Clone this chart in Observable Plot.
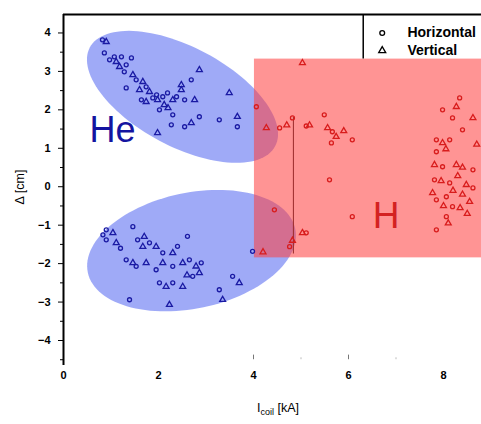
<!DOCTYPE html>
<html>
<head>
<meta charset="utf-8">
<script src="https://cdn.jsdelivr.net/npm/d3@7"></script>
<script src="https://cdn.jsdelivr.net/npm/@observablehq/plot@0.6"></script>
<style>
  html, body { margin: 0; padding: 0; background: #fff; }
  #chart svg { display: block; font-family: Arial, "Liberation Sans", sans-serif; }
</style>
</head>
<body>
<div id="chart"></div>
<script>
// ---- data (x = current [kA], y = displacement [cm]) ----
const heHorizontal = [
  [0.82,3.82],[0.86,3.48],[1.07,3.38],[1.22,3.38],[1.43,3.35],[1.32,3.17],[1.28,2.99],[1.53,2.78],
  [1.74,2.6],[1.32,2.57],[1.64,2.26],[1.88,2.31],[2.09,2.34],[2.19,2.44],[2.38,2.34],[2.55,2.26],
  [2.69,2.78],[2.3,1.87],[2.27,1.61],[2.55,1.56],[2.86,1.82],[3.28,1.74],[3.66,1.56],[1.96,2.39],
  [0.97,3.3],[2.02,2.0],
  [0.9,-1.12],[0.9,-1.38],[0.83,-1.25],[1.46,-1.04],[1.56,-1.38],[1.81,-1.46],[2.09,-1.72],[1.32,-1.9],
  [1.53,-2.07],[1.95,-2.16],[2.3,-2.07],[2.65,-1.9],[2.9,-1.98],[2.61,-1.29],[2.02,-2.5],[2.3,-2.5],
  [2.72,-2.33],[1.39,-2.94],[3.28,-2.68],[3.56,-2.33],[3.98,-1.68],[1.2,-1.6],[2.4,-1.55]
];
const heVertical = [
  [0.9,3.77],[1.11,3.25],[1.18,3.12],[1.46,2.91],[1.67,2.73],[1.6,2.52],[1.74,2.21],[1.98,2.26],
  [2.12,2.13],[2.3,2.26],[2.48,2.52],[2.86,3.04],[2.76,2.26],[1.98,1.4],[2.69,1.66],[3.49,2.44],
  [3.66,1.82],[2.48,2.65],[1.81,2.47],[2.2,2.05],
  [1.04,-1.2],[1.11,-1.46],[1.67,-1.56],[1.95,-1.56],[2.3,-1.72],[1.46,-1.98],[1.74,-1.98],[2.09,-1.98],
  [2.51,-1.98],[2.79,-2.07],[2.16,-2.6],[2.51,-2.6],[2.86,-2.24],[2.23,-3.07],[3.35,-2.94],[3.7,-2.5],
  [1.7,-1.3],[2.6,-2.3]
];
const hHorizontal = [
  [4.06,2.08],[4.55,1.53],[4.82,1.79],[5.11,1.58],[5.49,1.87],[5.66,1.43],[6.08,1.22],[5.64,1.14],
  [5.6,0.18],[6.08,-0.78],[5.11,-1.2],[4.44,-0.6],[4.76,-1.56],
  [8.34,2.31],[7.98,2.0],[8.19,1.79],[8.4,1.48],[7.85,1.22],[8.13,1.22],[7.85,0.91],[7.98,0.52],
  [8.62,0.44],[7.81,0.18],[8.13,0.1],[8.62,-0.03],[8.06,-0.26],[7.85,-0.34],[8.19,-0.52],[8.06,-0.78],
  [7.85,-1.12]
];
const hVertical = [
  [4.27,1.53],[4.7,1.6],[5.18,1.6],[5.56,1.53],[5.74,1.3],[5.9,1.45],[5.03,3.22],[4.82,-1.4],
  [5.03,-1.2],[4.2,-1.7],
  [8.27,2.08],[8.62,1.79],[7.98,1.14],[8.05,0.98],[7.81,0.57],[8.27,0.57],[8.4,0.5],[7.95,0.15],
  [8.3,0.28],[8.48,0.05],[7.77,-0.16],[8.2,-0.1],[8.4,-0.2],[8.55,-0.39],[8.0,-0.5],[8.35,-0.55],
  [8.1,-0.95],[8.5,-0.7],[8.7,1.1]
];
const xTicks = [0, 2, 4, 6, 8];
const yTicks = [-4, -3, -2, -1, 0, 1, 2, 3, 4];
const yMinorTicks = [-4.5, -3.5, -2.5, -1.5, -0.5, 0.5, 1.5, 2.5, 3.5, 4.5];
const legendLabels = ["Horizontal", "Vertical"];
const regionLabels = ["He", "H"];

// ---- annotation shapes (centre + two conjugate half-axis vectors, data units) ----
const heUpperEllipse = [2.505, 2.338, 1.952, -1.281, 0.485, 1.142];
const heLowerEllipse = [2.695, -1.662, 2.183, 0.571, 0.254, -1.473];
const hRegion = {x1: 4.02, x2: 9.5, y1: -1.85, y2: 3.32};

function ellipsePoints([cx, cy, ux, uy, vx, vy]) {
  const pts = [];
  for (let i = 0; i <= 120; i++) {
    const t = (i / 120) * 2 * Math.PI;
    pts.push({x: cx + ux * Math.cos(t) + vx * Math.sin(t), y: cy + uy * Math.cos(t) + vy * Math.sin(t)});
  }
  return pts;
}
const toObj = arr => arr.map(([x, y]) => ({x, y}));

const blue = "#1a1aa3";
const red = "#d81c1c";
const xDomain = [0, 8.8];
const yDomain = [-4.65, 4.48];

const chart = Plot.plot({
  width: 481,
  height: 424,
  marginLeft: 63,
  marginRight: 0,
  marginTop: 14,
  marginBottom: 59,
  style: {fontFamily: "Arial, 'Liberation Sans', sans-serif", background: "#fff", color: "#000"},
  x: {domain: xDomain, axis: null},
  y: {domain: yDomain, axis: null},
  marks: [
    Plot.line(ellipsePoints(heUpperEllipse), {x: "x", y: "y", fill: "rgb(80,100,240)", fillOpacity: 0.55, stroke: "none"}),
    Plot.line(ellipsePoints(heLowerEllipse), {x: "x", y: "y", fill: "rgb(80,100,240)", fillOpacity: 0.55, stroke: "none"}),
    Plot.rect([hRegion], {x1: "x1", x2: "x2", y1: "y1", y2: "y2", fill: "rgb(255,60,60)", fillOpacity: 0.55, clip: true}),
    Plot.ruleX([4.84], {y1: -1.75, y2: 1.8, stroke: "#9a2a2a", strokeWidth: 1}),
    // points
    Plot.dot(toObj(heHorizontal), {x: "x", y: "y", symbol: "circle", r: 2, stroke: blue, strokeWidth: 1.3, fill: "none"}),
    Plot.dot(toObj(heVertical), {x: "x", y: "y", symbol: "triangle", r: 2.2, stroke: blue, strokeWidth: 1.3, fill: "none"}),
    Plot.dot(toObj(hHorizontal), {x: "x", y: "y", symbol: "circle", r: 2, stroke: red, strokeWidth: 1.3, fill: "none", clip: true}),
    Plot.dot(toObj(hVertical), {x: "x", y: "y", symbol: "triangle", r: 2.2, stroke: red, strokeWidth: 1.3, fill: "none", clip: true}),
    // region labels
    Plot.text([regionLabels[0]], {x: 1.03, y: 1.46, text: d => d, fill: "#1414a0", fontSize: 36, textAnchor: "middle", lineAnchor: "middle"}),
    Plot.text([regionLabels[1]], {x: 6.79, y: -0.77, text: d => d, fill: "#d42222", fontSize: 37, textAnchor: "middle", lineAnchor: "middle"}),
    // frame
    Plot.ruleX([0], {stroke: "#000", strokeWidth: 2}),
    Plot.ruleY([yDomain[1]], {stroke: "#000", strokeWidth: 2}),
    // axes
    Plot.axisY(yTicks, {tickSize: 5, tickPadding: 8, fontSize: 11, fontWeight: "bold", label: null, stroke: "#000"}),
    Plot.axisY(yMinorTicks.filter(v => v > yDomain[0] && v < yDomain[1]), {tickSize: 3, tickFormat: () => "", label: null}),
    Plot.axisX(xTicks, {tickSize: 0, tickPadding: 6, fontSize: 11, fontWeight: "bold", label: null}),
    Plot.ruleX([4, 6], {y1: -4.5, y2: -4.38, stroke: "#777"}),
    Plot.ruleX([5, 7], {y1: -4.5, y2: -4.45, stroke: "#bbb"}),
    // legend
    Plot.ruleX([6.31], {y1: 3.32, y2: yDomain[1], stroke: "#000", strokeWidth: 1.5}),
    Plot.dot([legendLabels[0]], {x: 6.71, y: 4.0, symbol: "circle", r: 2.4, stroke: "#000", strokeWidth: 1.3, fill: "none"}),
    Plot.dot([legendLabels[1]], {x: 6.71, y: 3.54, symbol: "triangle", r: 2.6, stroke: "#000", strokeWidth: 1.3, fill: "none"}),
    Plot.text(legendLabels, {x: 7.24, y: (d, i) => [4.0, 3.54][i], text: d => d, fontSize: 14, fontWeight: "bold", textAnchor: "start", lineAnchor: "middle", fill: "#000"})
  ]
});

const svg = d3.select(chart);
// x axis title with subscript
const xt = svg.append("text")
  .attr("x", 278).attr("y", 412)
  .attr("text-anchor", "middle")
  .attr("font-size", 12.5)
  .attr("fill", "#000");
xt.append("tspan").text("I");
xt.append("tspan").attr("font-size", 9).attr("dy", 3).text("coil");
xt.append("tspan").attr("dy", -3).text(" [kA]");
// y axis title
svg.append("text")
  .attr("transform", "translate(24,187) rotate(-90)")
  .attr("text-anchor", "middle")
  .attr("font-size", 12.5)
  .attr("fill", "#000")
  .text("Δ [cm]");

document.getElementById("chart").appendChild(chart);
</script>
</body>
</html>
